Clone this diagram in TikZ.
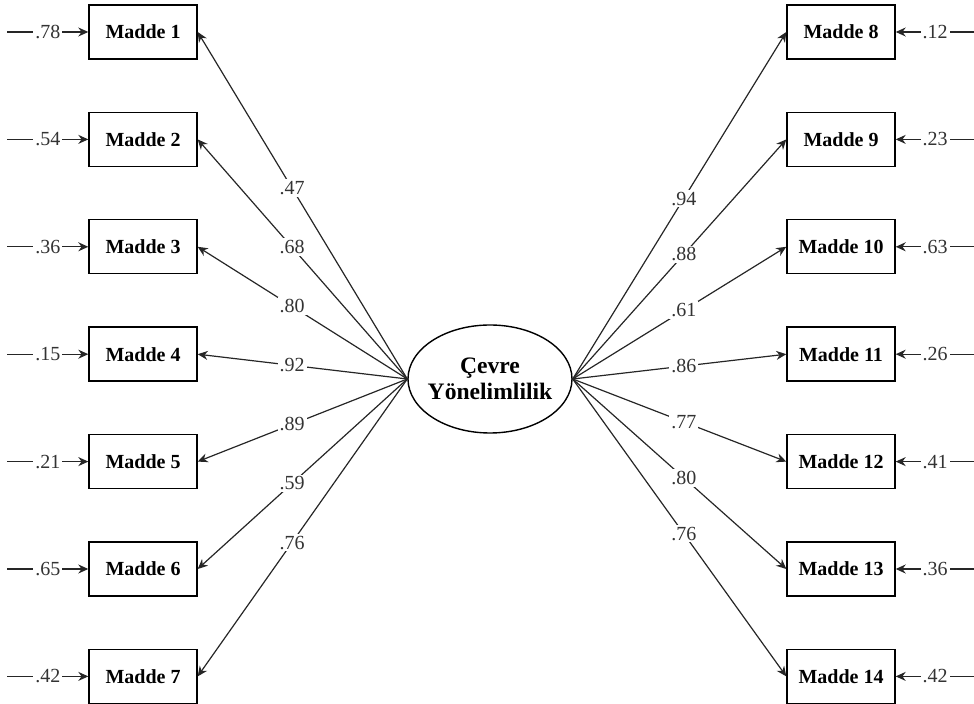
\documentclass[tikz,border=0pt]{standalone}
\usepackage{fontspec}
\setmainfont{Liberation Serif}
\usetikzlibrary{positioning,shapes.geometric,arrows.meta,calc}
\tikzset{
    item/.style={draw, line width=0.7pt, minimum width=54pt, minimum height=27pt, inner sep=0pt, font=\fontsize{10}{12}\selectfont\bfseries},
    latent/.style={draw, ellipse, line width=0.7pt, minimum width=82pt, minimum height=54pt, inner xsep=-2.5pt, inner ysep=0pt, align=center, font=\fontsize{11.8}{12.8}\selectfont\bfseries},
    load/.style={-{Stealth[length=5pt,width=4.5pt]}, line width=0.6pt, black!85},
    coef/.style={fill=white, inner sep=1pt, font=\fontsize{10}{12}\selectfont, text=black!80}
}

\begin{document}
\begin{tikzpicture}[x=0.5pt, y=-0.5pt]
        \useasboundingbox (0,0) rectangle (974,704);

        \node[latent] (cevre) at (490,379) {Çevre\\Yönelimlilik};

        \node[item] (m1) at (143,32) {Madde 1};
        \node[item, below=26.0pt of m1] (m2) {Madde 2};
        \node[item, below=26.0pt of m2] (m3) {Madde 3};
        \node[item, below=26.0pt of m3] (m4) {Madde 4};
        \node[item, below=26.0pt of m4] (m5) {Madde 5};
        \node[item, below=26.0pt of m5] (m6) {Madde 6};
        \node[item, below=26.0pt of m6] (m7) {Madde 7};

        \node[item, right=294.3pt of m1] (m8) {Madde 8};
        \node[item, below=26.0pt of m8] (m9) {Madde 9};
        \node[item, below=26.0pt of m9] (m10) {Madde 10};
        \node[item, below=26.0pt of m10] (m11) {Madde 11};
        \node[item, below=26.0pt of m11] (m12) {Madde 12};
        \node[item, below=26.0pt of m12] (m13) {Madde 13};
        \node[item, below=26.0pt of m13] (m14) {Madde 14};

        \coordinate (e1) at ($(m1.west)+(-81,0)$);
        \coordinate (e2) at ($(m2.west)+(-81,0)$);
        \coordinate (e3) at ($(m3.west)+(-81,0)$);
        \coordinate (e4) at ($(m4.west)+(-81,0)$);
        \coordinate (e5) at ($(m5.west)+(-81,0)$);
        \coordinate (e6) at ($(m6.west)+(-81,0)$);
        \coordinate (e7) at ($(m7.west)+(-81,0)$);
        \coordinate (e8) at ($(m8.east)+(79,0)$);
        \coordinate (e9) at ($(m9.east)+(79,0)$);
        \coordinate (e10) at ($(m10.east)+(79,0)$);
        \coordinate (e11) at ($(m11.east)+(79,0)$);
        \coordinate (e12) at ($(m12.east)+(79,0)$);
        \coordinate (e13) at ($(m13.east)+(79,0)$);
        \coordinate (e14) at ($(m14.east)+(79,0)$);

        \draw[load] (cevre.west) -- node[coef, pos=0.55] {.47} (m1.east);
        \draw[load] (cevre.west) -- node[coef, pos=0.55] {.68} (m2.east);
        \draw[load] (cevre.west) -- node[coef, pos=0.55] {.80} (m3.east);
        \draw[load] (cevre.west) -- node[coef, pos=0.55] {.92} (m4.east);
        \draw[load] (cevre.west) -- node[coef, pos=0.55] {.89} (m5.east);
        \draw[load] (cevre.west) -- node[coef, pos=0.55] {.59} (m6.east);
        \draw[load] (cevre.west) -- node[coef, pos=0.55] {.76} (m7.east);

        \draw[load] (cevre.east) -- node[coef, pos=0.52] {.94} (m8.west);
        \draw[load] (cevre.east) -- node[coef, pos=0.52] {.88} (m9.west);
        \draw[load] (cevre.east) -- node[coef, pos=0.52] {.61} (m10.west);
        \draw[load] (cevre.east) -- node[coef, pos=0.52] {.86} (m11.west);
        \draw[load] (cevre.east) -- node[coef, pos=0.52] {.77} (m12.west);
        \draw[load] (cevre.east) -- node[coef, pos=0.52] {.80} (m13.west);
        \draw[load] (cevre.east) -- node[coef, pos=0.52] {.76} (m14.west);

        \draw[load] (e1) -- node[coef] {.78} (m1);
        \draw[load] (e2) -- node[coef] {.54} (m2);
        \draw[load] (e3) -- node[coef] {.36} (m3);
        \draw[load] (e4) -- node[coef] {.15} (m4);
        \draw[load] (e5) -- node[coef] {.21} (m5);
        \draw[load] (e6) -- node[coef] {.65} (m6);
        \draw[load] (e7) -- node[coef] {.42} (m7);

        \draw[load] (e8) -- node[coef] {.12} (m8);
        \draw[load] (e9) -- node[coef] {.23} (m9);
        \draw[load] (e10) -- node[coef] {.63} (m10);
        \draw[load] (e11) -- node[coef] {.26} (m11);
        \draw[load] (e12) -- node[coef] {.41} (m12);
        \draw[load] (e13) -- node[coef] {.36} (m13);
        \draw[load] (e14) -- node[coef] {.42} (m14);
    \end{tikzpicture}
\end{document}
